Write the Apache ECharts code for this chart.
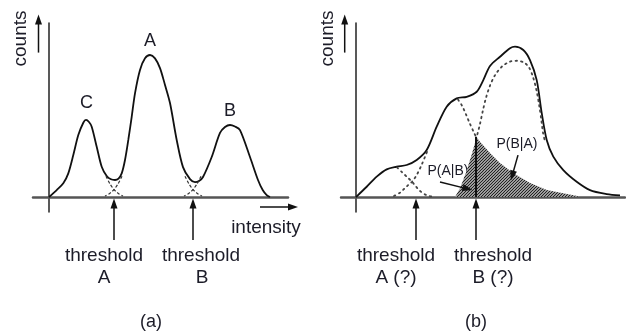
<!DOCTYPE html>
<html><head><meta charset="utf-8">
<script src="https://cdn.jsdelivr.net/npm/echarts@6/dist/echarts.min.js"></script>
<style>html,body{margin:0;padding:0;background:#fff}#c{width:626px;height:331px}</style>
</head><body><div id="c"></div>
<script>
// ---------- Panel (a): three well separated peaks ----------
const aCurveX = [0,3.85,7.15,9.65,12.15,14.65,17.15,18.5,20,21.35,23.85,26.35,28.85,31,33,34.75,36.35,38,39.65,41.35,43,45.5,48,50.5,53,55.5,58,60.5,63.85,67,70.5,73,75,77,81.35,85.5,88,90.5,93,95.5,100.5,104.5,106.85,108.85,110.5];
const aCurveY = [0,4.0,7.9,13.6,24.1,35.6,42.7,44.3,43.1,40.4,28.9,17.4,12.1,10.2,9.8,10.6,13.6,21.3,32.8,46.1,59.6,73,79.7,81.6,79.7,74.1,64.4,54,32.8,17.2,10.3,8.6,9.2,11.5,23,36.8,40.2,41.4,40.5,38.5,23,9.8,4,1.1,0];
// dashed component tails crossing at the thresholds
const aTailCX = [28.5,30.5,32.5,34.5,37];   const aTailCY = [12,7.5,4.3,2.2,0.6];
const aTailA1X = [36.5,34.5,32.5,30.5,28];  const aTailA1Y = [12,7.5,4.3,2.2,0.6];
const aTailA2X = [68,70,72,74,76.5];        const aTailA2Y = [12,7.5,4.3,2.2,0.6];
const aTailBX = [76,74,72,70,67.5];         const aTailBY = [12,7.5,4.3,2.2,0.6];
const aThresholds = [32.5, 72];

// ---------- Panel (b): overlapping peaks ----------
const bCurveX = [0,5.35,10.35,15.35,20.35,25.35,30.35,35.35,40.35,45.35,50.35,55.35,60.35,63.65,67,72,77,79.5,83.65,87,90.35,92.85,95.35,98.65,103.65,110.35,117,125.35,132];
const bCurveY = [0,5.9,11.7,15.9,17.4,18.4,21.3,27,40.4,51.9,56.7,57.6,60.5,67.2,75.3,80.6,85.5,86.4,84.5,78.7,67.2,48.3,32.8,23.2,15.5,8.8,4,1.7,0.9];
const bComp1X = [20.5,23,26,28,30,32,35,38];           const bComp1Y = [17,14.3,11,8.8,6,3.5,1.2,0.3];
const bComp2LX = [19,22,24,26,28,30.5,33,35.5];         const bComp2LY = [0.6,2.5,4.6,6.8,8.8,13,19,26];
const bComp2RX = [51,53,55,57,59,60];                   const bComp2RY = [56,52.5,47.5,42,37,34.6];
const bComp3X = [60,62,63.5,65,67,69.5,73,77,80.5,84,86.5,88.5,90.3,91.7,92.7,93.5,94.5];
const bComp3Y = [33,42,50,57,64,70,75,77.8,78.3,77.3,74.5,69,61,52,44,37,32];
const hatchX = [49.5,52,55,58,60,60,62,64,67,72,78.5,87,95.4,105.4,112];
const hatchY = [0,5,14,25,33,34.6,31.8,29.2,25.3,19.5,13.8,8,4,1.7,0.3];
const bThresholds = [30, 60];
const bThresholdTop = 34.6;

const zip = (xs, ys) => xs.map((x, i) => [x, ys[i]]);
const INK = '#111';
const FONT = '"Liberation Sans", Arial, Helvetica, sans-serif';

function hatchCanvas() {
  const c = document.createElement('canvas');
  c.width = 3; c.height = 3;
  const g = c.getContext('2d');
  g.fillStyle = '#fff'; g.fillRect(0, 0, 3, 3);
  g.strokeStyle = '#222'; g.lineWidth = 1.3;
  g.beginPath();
  g.moveTo(0, 3); g.lineTo(3, 0);
  g.moveTo(-1, 1); g.lineTo(1, -1);
  g.moveTo(2, 4); g.lineTo(4, 2);
  g.stroke();
  return c;
}

function curve(idx, xs, ys, opts) {
  return Object.assign({
    type: 'line', xAxisIndex: idx, yAxisIndex: idx, data: zip(xs, ys),
    symbol: 'none', smooth: 0.3, clip: false, silent: true,
    lineStyle: { color: INK, width: 1.8 }
  }, opts || {});
}
function arrow(idx, p0, p1, rot) {
  return {
    type: 'line', xAxisIndex: idx, yAxisIndex: idx, clip: false, silent: true,
    symbol: 'none', showSymbol: true,
    data: [ { value: p0, symbol: 'none' },
            { value: p1, symbol: 'triangle', symbolSize: [7, 10], symbolRotate: rot } ],
    lineStyle: { color: INK, width: 1.5 }, itemStyle: { color: INK }
  };
}

const dashed = { color: '#333', width: 1.2, type: [3, 2] };
const dotted = { color: '#444', width: 1.8, type: [1.5, 4], cap: 'round' };

function axes(idx, min, max) {
  return {
    x: { gridIndex: idx, type: 'value', min: min, max: max,
         axisLine: { onZero: true, lineStyle: { color: '#555', width: 2.5 } },
         axisTick: { show: false }, axisLabel: { show: false }, splitLine: { show: false } },
    y: { gridIndex: idx, type: 'value', min: -8.6, max: 100,
         axisLine: { onZero: true, lineStyle: { color: '#222', width: 1.5 } },
         axisTick: { show: false }, axisLabel: { show: false }, splitLine: { show: false } }
  };
}
const ax0 = axes(0, -8, 119.5), ax1 = axes(1, -7.5, 134.5);

const texts = [
  ['counts', 21, 38.5, 19, Math.PI / 2],
  ['C', 86.5, 103, 18], ['A', 150, 41, 18], ['B', 230, 111, 18],
  ['intensity', 266, 228, 19],
  ['threshold', 104, 256, 19], ['A', 104, 278, 19],
  ['threshold', 201, 256, 19], ['B', 202, 278, 19],
  ['(a)', 151, 322, 18],
  ['counts', 328, 38.5, 19, Math.PI / 2],
  ['P(A|B)', 448, 171, 14], ['P(B|A)', 517, 144, 14],
  ['threshold', 396, 256, 19], ['A (?)', 396, 278, 19],
  ['threshold', 493, 256, 19], ['B (?)', 493, 278, 19],
  ['(b)', 476, 322, 18]
];

const series = [
  curve(0, aCurveX, aCurveY),
  curve(0, aTailCX, aTailCY, { lineStyle: dashed }),
  curve(0, aTailA1X, aTailA1Y, { lineStyle: dashed }),
  curve(0, aTailA2X, aTailA2Y, { lineStyle: dashed }),
  curve(0, aTailBX, aTailBY, { lineStyle: dashed }),
  arrow(0, [aThresholds[0], -24.7], [aThresholds[0], -3.7], 0),
  arrow(0, [aThresholds[1], -24.7], [aThresholds[1], -3.7], 0),
  arrow(0, [-5.25, 83], [-5.25, 102], 0),
  arrow(0, [105.5, -5.75], [122, -5.75], -90),

  curve(1, hatchX, hatchY, { smooth: false, lineStyle: { width: 0 },
        areaStyle: { color: { image: hatchCanvas(), repeat: 'repeat' }, opacity: 1 }, z: 1 }),
  curve(1, bCurveX, bCurveY),
  curve(1, bComp1X, bComp1Y, { lineStyle: dotted }),
  curve(1, bComp2LX, bComp2LY, { lineStyle: dotted }),
  curve(1, bComp2RX, bComp2RY, { lineStyle: dotted }),
  curve(1, bComp3X, bComp3Y, { lineStyle: dotted }),
  curve(1, [bThresholds[1], bThresholds[1]], [0, bThresholdTop], { smooth: false, lineStyle: { color: INK, width: 2 } }),
  arrow(1, [bThresholds[0], -24.7], [bThresholds[0], -3.7], 0),
  arrow(1, [bThresholds[1], -24.7], [bThresholds[1], -3.7], 0),
  arrow(1, [-5.65, 83], [-5.65, 102], 0),
  arrow(1, [42, 8.6], [55.8, 4.7], -104),
  arrow(1, [81, 24.1], [78.1, 12.3], 164)
];

const chart = echarts.init(document.getElementById('c'), null, { renderer: 'canvas' });
chart.setOption({
  animation: false,
  backgroundColor: '#fff',
  grid: [
    { left: 33, top: 23, width: 255, height: 189 },
    { left: 341, top: 23, width: 284, height: 189 }
  ],
  xAxis: [ax0.x, ax1.x],
  yAxis: [ax0.y, ax1.y],
  series: series,
  graphic: texts.map(t => ({
    type: 'text', x: t[1], y: t[2], rotation: t[4] || 0, silent: true,
    style: { text: t[0], fontSize: t[3], fontFamily: FONT, fill: '#1c1c28',
             align: 'center', verticalAlign: 'middle' }
  }))
});
</script>
</body></html>
